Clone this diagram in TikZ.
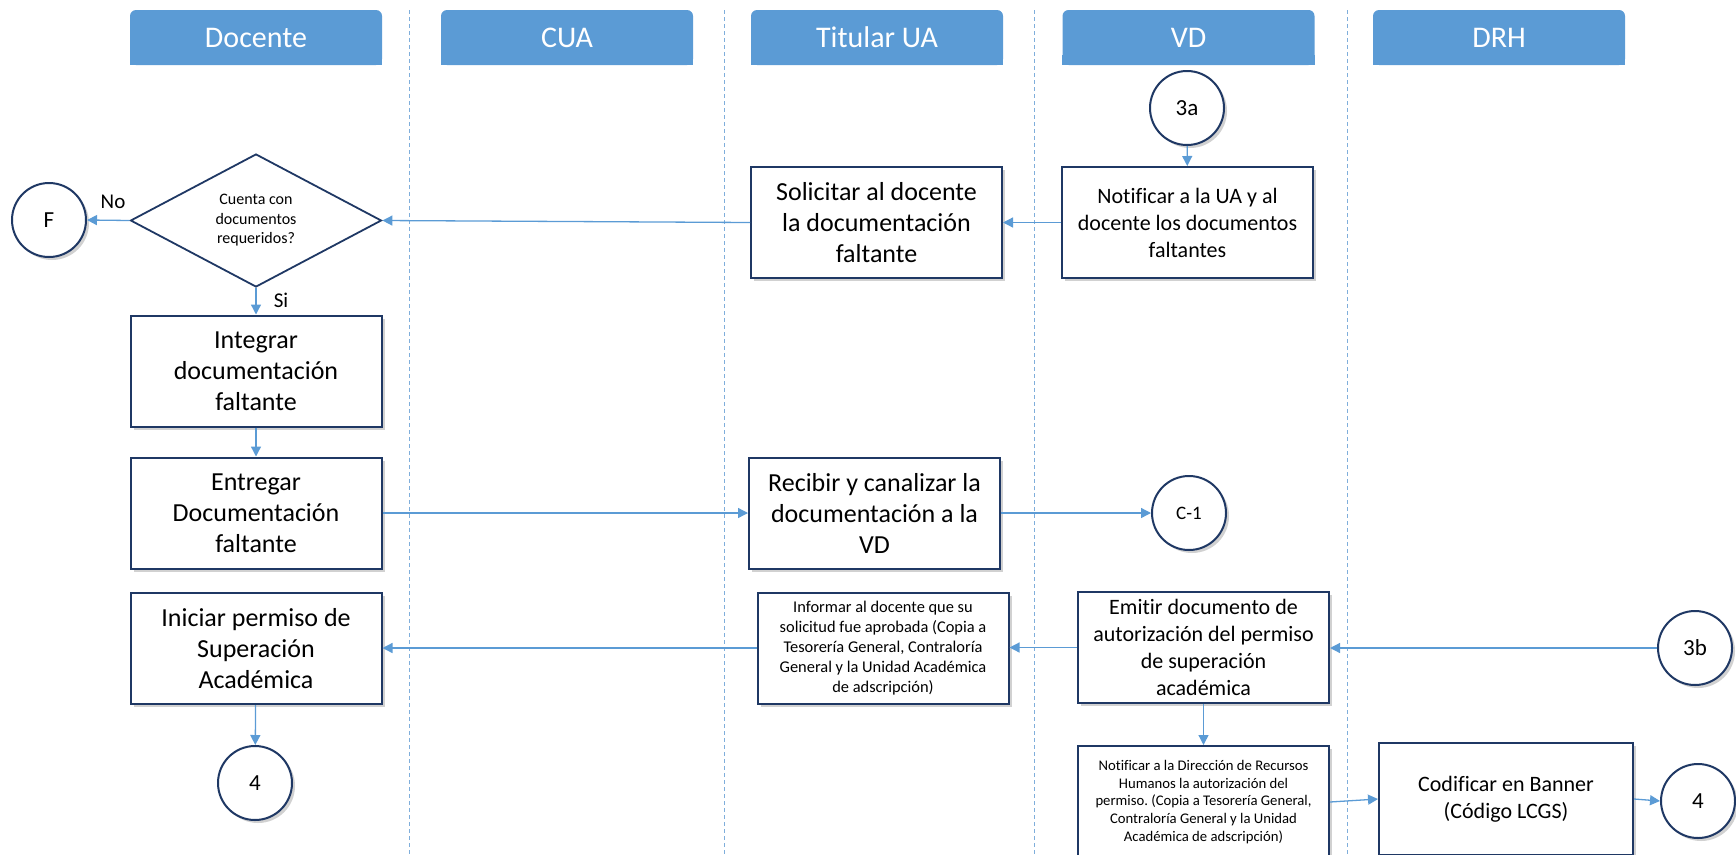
\documentclass[tikz,border=0pt]{standalone}
\usepackage{fontspec}
\setmainfont{Carlito}[Ligatures={NoCommon}]
\usetikzlibrary{shapes.geometric,arrows.meta,shadows}
\definecolor{hdrblue}{HTML}{5B9BD5}
\definecolor{navy}{HTML}{1F3864}
\definecolor{connblue}{HTML}{5B9BD5}
\definecolor{laneblue}{HTML}{7FAEDB}
\frenchspacing
\begin{document}
\begin{tikzpicture}[x=1pt,y=-1pt,
  hdr/.style={fill=hdrblue, rounded corners=6pt, minimum width=252pt, minimum height=55pt, text=white, font=\fontsize{30}{36}\selectfont, inner sep=0pt},
  hdrfix/.style={fill=hdrblue},
  shad/.style={drop shadow={shadow xshift=3pt, shadow yshift=-3pt, opacity=0.3, fill=black!60}},
  box/.style={draw=navy, line width=2pt, fill=white, minimum width=251pt, minimum height=111pt, align=center, inner sep=2pt, shad},
  big/.style={font=\fontsize{26}{31}\selectfont},
  med/.style={font=\fontsize{22}{27}\selectfont},
  small/.style={font=\fontsize{16.4}{20}\selectfont},
  tiny/.style={font=\fontsize{14.7}{17.8}\selectfont},
  conncircle/.style={circle, draw=navy, line width=2pt, fill=white, minimum size=74pt, inner sep=0pt, shad, font=\fontsize{23}{27}\selectfont},
  decision/.style={diamond, draw=navy, line width=1.8pt, fill=white, minimum width=251pt, minimum height=133pt, inner sep=0pt, align=center, font=\fontsize{16}{19.5}\selectfont},
  flow/.style={draw=connblue, line width=1.3pt, -{Triangle[length=10pt,width=10pt]}},
  lane/.style={draw=laneblue, line width=1pt, dash pattern=on 4pt off 3pt},
  lbl/.style={font=\fontsize{21}{25}\selectfont, inner sep=0pt}
]
\useasboundingbox (0,0) rectangle (1736,854);
\clip (0,0) rectangle (1736,854);

% lane dividers
\foreach \x in {409,724,1034,1347} { \draw[lane] (\x,10) -- (\x,854); }

% headers
\node[hdr] (hD) at (256,37.5) {Docente};
\node[hdr] (hC) at (567,37.5) {CUA};
\node[hdr] (hT) at (877,37.5) {Titular UA};
\node[hdr] (hV) at (1188.5,37.5) {VD};
\node[hdr] (hR) at (1499,37.5) {DRH};
\foreach \h in {hD,hC,hT,hV,hR} { \fill[hdrfix] (\h.south west) rectangle ([yshift=10pt]\h.south east); }

% nodes
\node[conncircle] (F) at (49,220) {F};
\node[decision] (dec) at (256,220.5) {Cuenta con\\documentos\\requeridos?};
\node[box,big] (integ) at (256,371) {Integrar\\documentación\\faltante};
\node[box,big] (entr) at (256,513) {Entregar\\Documentación\\faltante};
\node[box,big] (inic) at (256,648.5) {Iniciar permiso de\\Superación\\Académica};
\node[conncircle] (c4a) at (255,783) {4};

\node[box,big] (solic) at (876.5,222.5) {Solicitar al docente\\la documentación\\faltante};
\node[box,big] (recib) at (874.5,513) {Recibir y canalizar la\\documentación a la\\VD};
\node[box,small] (infor) at (883,648) {Informar al docente que su\\solicitud fue aprobada (Copia a\\Tesorería General, Contraloría\\General y la Unidad Académica\\de adscripción)};

\node[conncircle] (c3a) at (1187,108) {3a};
\node[box,med] (notvd) at (1187.5,222.5) {Notificar a la UA y al\\docente los documentos\\faltantes};
\node[conncircle,font=\fontsize{19}{23}\selectfont] (c1) at (1189,513) {C-1};
\node[box,med] (emit) at (1203.5,647.5) {Emitir documento de\\autorización del permiso\\de superación\\académica};
\node[box,tiny,minimum height=112pt] (notdrh) at (1203.5,802) {Notificar a la Dirección de Recursos\\Humanos la autorización del\\permiso. (Copia a Tesorería General,\\Contraloría General y la Unidad\\Académica de adscripción)};

\node[conncircle] (c3b) at (1695,648) {3b};
\node[box,med,minimum width=254pt,minimum height=112pt] (codif) at (1506,799) {Codificar en Banner\\(Código LCGS)};
\node[conncircle] (c4b) at (1698,801) {4};

% connectors
\draw[flow] (c3a) -- (notvd);
\draw[flow] (notvd) -- (solic);
\draw[flow] (solic.west) -- (dec.east);
\draw[flow] (dec.west) -- (F.east);
\node[lbl] (lno) at (113,202) {No};
\draw[flow] (dec.south) -- (integ.north);
\node[lbl] (lsi) at (281,300) {Si};
\draw[flow] (integ) -- (entr);
\draw[flow] (entr.east) -- (entr.east -| recib.west);
\draw[flow] (recib.east) -- (recib.east -| c1.west);
\draw[flow] (c3b.west) -- (c3b.west -| emit.east);
\draw[flow] (emit.west) -- (emit.west -| infor.east);
\draw[flow] (infor.west) -- (infor.west -| inic.east);
\draw[flow] (inic) -- (c4a);
\draw[flow] (emit.south) -- (emit.south |- notdrh.north);
\draw[flow] (notdrh.east) -- (codif.west);
\draw[flow] (codif.east) -- (c4b.west);
\end{tikzpicture}
\end{document}
